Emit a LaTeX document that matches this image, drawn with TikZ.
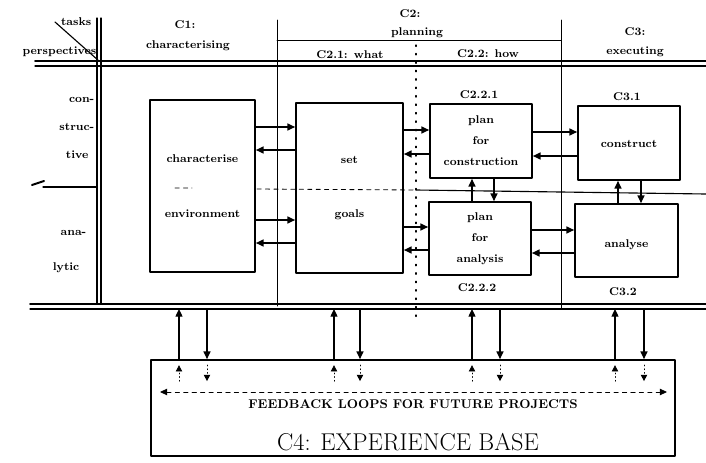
\documentclass[tikz,border=0pt]{standalone}
\usepackage{tikz}
\usetikzlibrary{arrows.meta}
\tikzset{
  every picture/.style={line join=round, line cap=round, >=Stealth},
  box/.style={draw, line width=1.2pt, inner sep=0pt, font=\footnotesize\bfseries, align=center},
  lbl/.style={font=\footnotesize\bfseries, inner sep=1pt},
  flowarrow/.style={line width=1pt, -{Triangle[length=5.5pt,width=5pt]}},
  fbloop/.style={line width=0.6pt, dotted, -{Triangle[length=4.5pt,width=4.5pt]}},
}

\begin{document}
\begin{tikzpicture}[x=0.025cm, y=-0.025cm]
\useasboundingbox (0,0) rectangle (706,462);
% grid of the table
\draw[line width=0.9pt] (97,18)--(97,304) (101,18)--(101,304);
\draw[line width=0.8pt] (55,22)--(99,61);
\draw[line width=1.1pt] (35,61)--(706,61);
\draw[line width=0.8pt] (35,66)--(706,66);
\draw[line width=1.1pt] (30,304)--(706,304);
\draw[line width=0.8pt] (30,309)--(706,309);
\draw[line width=0.7pt] (277,20)--(277,306) (561,20)--(561,309);
\draw[line width=0.7pt] (277,40)--(561,40);
\draw[line width=0.9pt, dash pattern=on 1pt off 5pt] (416,45)--(416,322);
% constructive / analytic
\draw[line width=0.8pt] (43,187)--(97,187);
\draw[line width=1.4pt] (32,185)--(44,181);
\draw[line width=0.6pt, dashed] (175,188)--(192,188) (257,189)--(416,190);
\draw[line width=0.8pt] (416,190)--(706,194);
% headings
\node[lbl, anchor=east] (tasks) at (93,22) {tasks};
\node[lbl, anchor=east] (persp) at (98,52) {perspectives};
\node[lbl] (c1) at (185,25) {C1:};
\node[lbl] (c1t) at (188,46) {characterising};
\node[lbl] (c2) at (410,14) {C2:};
\node[lbl] (c2t) at (417,33) {planning};
\node[lbl] (c21) at (350,55) {C2.1: what};
\node[lbl] (c22) at (488,54) {C2.2: how};
\node[lbl] (c3) at (635,32) {C3:};
\node[lbl] (c3t) at (635,52) {executing};
\node[lbl, anchor=east] (con1) at (96,100) {con-};
\node[lbl, anchor=east] (con2) at (96,127) {struc-};
\node[lbl, anchor=east] (con3) at (90,155) {tive};
\node[lbl, anchor=east] (ana1) at (88,233) {ana-};
\node[lbl, anchor=east] (ana2) at (81,268) {lytic};
% boxes
\node[box, minimum width=2.625cm, minimum height=4.3cm] (char) at (202.5,186) {characterise\\[29.5pt]environment};
\node[box, minimum width=2.675cm, minimum height=4.25cm] (set) at (349.5,188) {set\\[29.5pt]goals};
\node[box, minimum width=2.55cm, minimum height=1.85cm] (pcon) at (481,141) {plan\\[5.4pt]for\\[5.4pt]construction};
\node[box, minimum width=2.55cm, minimum height=1.825cm] (pana) at (480,238.5) {plan\\[5.4pt]for\\[5.4pt]analysis};
\node[box, minimum width=2.55cm, minimum height=1.85cm] (cons) at (629,143) {\raisebox{-3pt}[0pt][0pt]{construct}};
\node[box, minimum width=2.575cm, minimum height=1.825cm] (anal) at (626.5,240.5) {\raisebox{-5pt}[0pt][0pt]{analyse}};
\node[lbl] (l221) at (479,95) {C2.2.1};
\node[lbl] (l222) at (477,288) {C2.2.2};
\node[lbl] (l31) at (627,97) {C3.1};
\node[lbl] (l32) at (623,292) {C3.2};
% arrows between the boxes
\draw[flowarrow] (char.east |- 0,127) -- (set.west |- 0,127);
\draw[flowarrow] (set.west |- 0,150) -- (char.east |- 0,150);
\draw[flowarrow] (char.east |- 0,220) -- (set.west |- 0,220);
\draw[flowarrow] (set.west |- 0,243) -- (char.east |- 0,243);
\draw[flowarrow] (set.east |- 0,130) -- (pcon.west |- 0,130);
\draw[flowarrow] (pcon.west |- 0,154) -- (set.east |- 0,154);
\draw[flowarrow] (set.east |- 0,227) -- (pana.west |- 0,227);
\draw[flowarrow] (pana.west |- 0,250) -- (set.east |- 0,250);
\draw[flowarrow] (pcon.east |- 0,132) -- (cons.west |- 0,132);
\draw[flowarrow] (cons.west |- 0,156) -- (pcon.east |- 0,156);
\draw[flowarrow] (pana.east |- 0,230) -- (anal.west |- 0,230);
\draw[flowarrow] (anal.west |- 0,253) -- (pana.east |- 0,253);
\draw[flowarrow] (pana.north -| 472,0) -- (pcon.south -| 472,0);
\draw[flowarrow] (pcon.south -| 494,0) -- (pana.north -| 494,0);
\draw[flowarrow] (anal.north -| 618,0) -- (cons.south -| 618,0);
\draw[flowarrow] (cons.south -| 641,0) -- (anal.north -| 641,0);
% experience base
\node[draw, line width=1.2pt, minimum width=13.1cm, minimum height=2.4cm, inner sep=0pt] (base) at (413,408) {};
\node[font=\small\bfseries] (fbtext) at (413,404) {FEEDBACK LOOPS FOR FUTURE PROJECTS};
\node[font=\LARGE] (c4) at (408,442) {C4: EXPERIENCE BASE};
\coordinate (lowline) at (0,309);
\foreach \u/\d in {179/207, 334/360, 472/500, 615/644}{
  \draw[flowarrow] (base.north -| \u,0) -- (lowline -| \u,0);
  \draw[flowarrow] (lowline -| \d,0) -- (base.north -| \d,0);
  \draw[fbloop] (base.north -| \u,0) ++(0,22) -- ++(0,-16);
  \draw[fbloop] (base.north -| \d,0) ++(0,6) -- ++(0,16);
}
\coordinate (fbL) at (160,392);
\coordinate (fbR) at (667,392);
\draw[line width=0.6pt, dashed, {Triangle[length=5pt,width=4.5pt]}-{Triangle[length=5pt,width=4.5pt]}] (fbL) -- (fbR);
\end{tikzpicture}
\end{document}
